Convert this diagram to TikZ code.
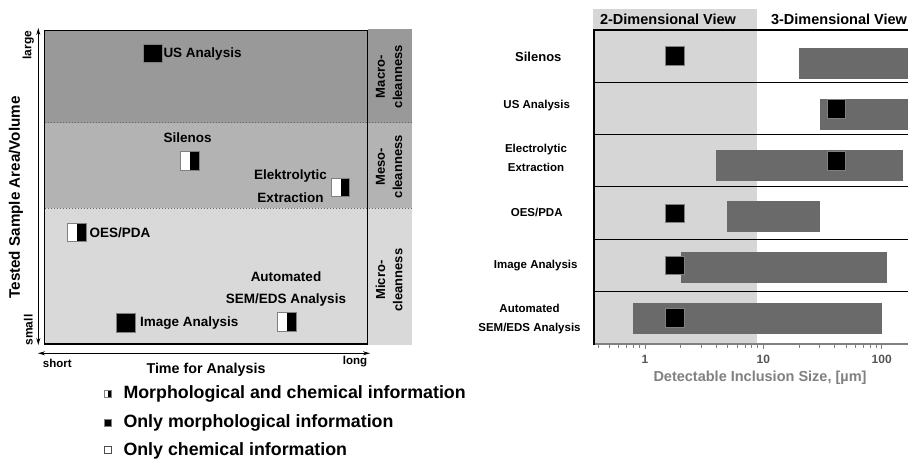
\documentclass[tikz,border=0pt]{standalone}
\usepackage{fontspec}
\setmainfont{Liberation Sans}
\usetikzlibrary{arrows.meta}
\definecolor{bandA}{HTML}{999999}
\definecolor{bandB}{HTML}{B3B3B3}
\definecolor{bandC}{HTML}{D9D9D9}
\definecolor{viewgray}{HTML}{D6D6D6}
\definecolor{barC}{HTML}{6A6A6A}
\definecolor{axisgray}{HTML}{808080}
\definecolor{ticklab}{HTML}{555555}
\begin{document}
\begin{tikzpicture}[x=1pt,y=-1pt,
  txt/.style={font=\fontsize{13.5}{22.3}\selectfont\bfseries, inner sep=0pt, align=center},
  rowlbl/.style={font=\fontsize{11.5}{18.6}\selectfont\bfseries, inner sep=0pt, align=center},
  striplbl/.style={font=\fontsize{13}{17.3}\selectfont\bfseries, inner sep=0pt, align=center, rotate=90},
  hdr/.style={font=\fontsize{14.5}{16}\selectfont\bfseries, inner sep=0pt},
  legtxt/.style={font=\fontsize{17.8}{20}\selectfont\bfseries, inner sep=0pt, anchor=west},
  blacksq/.style={rectangle, minimum size=18.5pt, inner sep=0pt, outer sep=0pt, fill=black, draw=gray, line width=0.4pt},
  halfsq/.style={rectangle, minimum size=18.5pt, inner sep=0pt, outer sep=0pt, fill=white, draw=gray, line width=0.6pt,
     path picture={\fill[black] (path picture bounding box.north) rectangle (path picture bounding box.south east);}},
  smallhalf/.style={halfsq, minimum size=7pt},
  smallblack/.style={blacksq, minimum size=7pt},
  smallopen/.style={rectangle, minimum size=7pt, inner sep=0pt, fill=white, draw=black!70, line width=0.6pt},
  bar/.style={fill=barC},
  dblarrow/.style={{Stealth[length=7pt,width=4pt]}-{Stealth[length=7pt,width=4pt]}, line width=1pt},
  sep/.style={dotted, line width=1pt, black!60},
]
\useasboundingbox (0,0) rectangle (908,474);

% ---------------- Left chart ----------------
\fill[bandA] (44.5,30.7) rectangle (367.7,122.7);
\fill[bandB] (44.5,122.7) rectangle (367.7,208.3);
\fill[bandC] (44.5,208.3) rectangle (367.7,344);
\fill[bandA] (367.7,29.3) rectangle (412,122.7);
\fill[bandB] (367.7,122.7) rectangle (412,208.3);
\fill[bandC] (367.7,208.3) rectangle (412,345);
\draw[sep] (44.5,122.7) -- (412,122.7);
\draw[sep] (44.5,208.3) -- (412,208.3);
\draw[line width=1.2pt] (44.5,30.7) rectangle (367.7,344);

\node[striplbl] (macro) at (389,76.7) {Macro-\\cleanness};
\node[striplbl] (meso) at (389,166.7) {Meso-\\cleanness};
\node[striplbl] (micro) at (389,280) {Micro-\\cleanness};

% axes
\coordinate (ytop) at (38.3,28);
\coordinate (ybot) at (38.3,345);
\coordinate (xleft) at (38,353.3);
\coordinate (xright) at (370,353.3);
\draw[dblarrow] (ybot) -- (ytop);
\draw[dblarrow] (xleft) -- (xright);
\node[font=\fontsize{12}{14}\selectfont\bfseries, rotate=90, inner sep=0pt] (large) at (28.3,45) {large};
\node[font=\fontsize{12}{14}\selectfont\bfseries, rotate=90, inner sep=0pt] (small) at (28.3,330) {small};
\node[font=\fontsize{15.2}{17}\selectfont\bfseries, rotate=90, inner sep=0pt] (ytitle) at (16,197.5) {Tested Sample Area/Volume};
\node[font=\fontsize{11.5}{14}\selectfont\bfseries, inner sep=0pt] (short) at (57.3,363) {short};
\node[font=\fontsize{11.5}{14}\selectfont\bfseries, inner sep=0pt] (long) at (355,362) {long};
\node[font=\fontsize{14.3}{16}\selectfont\bfseries, inner sep=0pt] (xtitle) at (206,370) {Time for Analysis};

% methods
\node[blacksq] (usq) at (152.5,53.2) {};
\node[txt, anchor=west] (ul) at (163.3,54) {US Analysis};
\node[txt] (sil) at (187.7,137.7) {Silenos};
\node[halfsq] (silq) at (189.8,160.8) {};
\node[txt] (ele) at (290.5,186.2) {Elektrolytic\\Extraction};
\node[halfsq] (eleq) at (340.5,187.5) {};
\node[halfsq] (oesq) at (76.8,232.5) {};
\node[txt, anchor=west] (oes) at (89.3,232.3) {OES/PDA};
\node[txt] (aut) at (286,289.3) {Automated\\SEM/EDS Analysis};
\node[halfsq] (autq) at (286.7,322) {};
\node[blacksq] (imgq) at (125.5,322.5) {};
\node[txt, anchor=west] (img) at (140,322.7) {Image Analysis};

% legend
\node[smallhalf] (lg1) at (107.7,393.7) {};
\node[legtxt] (lt1) at (123.3,394) {Morphological and chemical information};
\node[smallblack] (lg2) at (107.7,422.6) {};
\node[legtxt] (lt2) at (123.3,422.7) {Only morphological information};
\node[smallopen] (lg3) at (107.7,450) {};
\node[legtxt] (lt3) at (123.3,450.7) {Only chemical information};

% ---------------- Right chart ----------------
\fill[viewgray] (593,9) rectangle (756.7,344);
\node[hdr] (h2) at (668,19.3) {2-Dimensional View};
\node[hdr] (h3) at (839,19.3) {3-Dimensional View};

% bars
\fill[bar] (799,48.3) rectangle (908,79);
\fill[bar] (820,99) rectangle (908,130);
\fill[bar] (716,150) rectangle (902.7,181);
\fill[bar] (727.3,201) rectangle (820,231.7);
\fill[bar] (680.7,252) rectangle (886.7,282.7);
\fill[bar] (633.3,303.3) rectangle (882,334);

\node[blacksq, minimum size=18.7pt] (q1) at (674.7,56) {};
\node[blacksq, minimum size=18.7pt] (q2) at (836.2,108.5) {};
\node[blacksq, minimum size=18.7pt] (q3) at (836.2,160.8) {};
\node[blacksq, minimum size=18.7pt] (q4) at (674.7,213.3) {};
\node[blacksq, minimum size=18.7pt] (q5) at (674.7,265.3) {};
\node[blacksq, minimum size=18.7pt] (q6) at (674.7,317.7) {};

% row lines
\foreach \yy in {30,82.3,134.3,186.7,239.3,291.7}
  \draw[line width=1.2pt] (594,\yy) -- (908,\yy);
% axes
\draw[axisgray, line width=1.2pt] (594,344) -- (908,344);
\draw[line width=1.4pt] (594,29.4) -- (594,344.6);
\foreach \v in {0.4,0.5,0.6,0.7,0.8,0.9,2,3,4,5,6,7,8,9,20,30,40,50,60,70,80,90}
  \draw[axisgray, line width=0.8pt] ({645+118.3*log10(\v)},344) -- ++(0,3.5);
\foreach \v in {1,10,100}
  \draw[axisgray, line width=0.9pt] ({645+118.3*log10(\v)},344) -- ++(0,5);

\node[font=\fontsize{12}{14}\selectfont\bfseries, text=ticklab, inner sep=0pt] (t1) at (645,359) {1};
\node[font=\fontsize{12}{14}\selectfont\bfseries, text=ticklab, inner sep=0pt] (t10) at (763.3,359) {10};
\node[font=\fontsize{12}{14}\selectfont\bfseries, text=ticklab, inner sep=0pt] (t100) at (881.7,359) {100};
\node[font=\fontsize{14.5}{16}\selectfont\bfseries, text=axisgray, inner sep=0pt] (xt) at (760,377.7) {Detectable Inclusion Size, [µm]};

% row labels
\node[rowlbl, font=\fontsize{13}{15}\selectfont\bfseries] (r1) at (538.3,56.7) {Silenos};
\node[rowlbl] (r2) at (536.7,105.3) {US Analysis};
\node[rowlbl] (r3) at (536,158) {Electrolytic\\Extraction};
\node[rowlbl] (r4) at (536.7,212.7) {OES/PDA};
\node[rowlbl] (r5) at (535.7,266) {Image Analysis};
\node[rowlbl, font=\fontsize{11.5}{19}\selectfont\bfseries] (r6) at (529.5,318.8) {Automated\\SEM/EDS Analysis};
\end{tikzpicture}
\end{document}
